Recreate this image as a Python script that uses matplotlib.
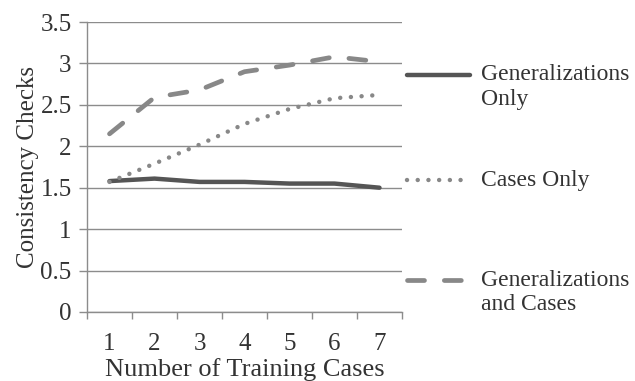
import matplotlib.pyplot as plt
from matplotlib.lines import Line2D

# Data
cases = [1, 2, 3, 4, 5, 6, 7]
gen_only = [1.58, 1.61, 1.57, 1.57, 1.55, 1.55, 1.50]
cases_only = [1.57, 1.79, 2.02, 2.27, 2.45, 2.58, 2.62]
gen_and_cases = [2.15, 2.59, 2.68, 2.90, 2.98, 3.08, 3.02]

plt.rcParams['font.family'] = ['Liberation Serif', 'DejaVu Serif']
text_col = '#333333'
axis_col = '#8c8c8c'

solid = dict(color='#555555', lw=3.2, solid_capstyle='round', solid_joinstyle='round')
dotted = dict(color='#888888', lw=3.2, linestyle=(0, (0.01, 2.4)), dash_capstyle='round')
dashed = dict(color='#888888', lw=3.4, linestyle=(0, (3.6, 4.2)), dash_capstyle='round')

fig = plt.figure(figsize=(6.35, 3.81), dpi=100)
ax = fig.add_axes([87 / 635, 1 - 312 / 381, 315 / 635, 290 / 381])

ax.plot(cases, gen_only, **solid)
ax.plot(cases, cases_only, **dotted)
ax.plot(cases, gen_and_cases, **dashed)

ax.set_xlim(0.5, 7.5)
ax.set_ylim(0, 3.5)
ax.set_yticks([0, 0.5, 1, 1.5, 2, 2.5, 3, 3.5])
ax.set_yticklabels(['0', '0.5', '1', '1.5', '2', '2.5', '3', '3.5'])
ax.set_xticks(cases)
ax.set_xticks([c - 0.5 for c in cases] + [7.5], minor=True)
ax.tick_params(axis='x', which='major', length=0, pad=15, labelsize=18,
               colors=text_col)
ax.tick_params(axis='x', which='minor', length=5, color=axis_col, width=1)
ax.tick_params(axis='y', length=6, color=axis_col, width=1, labelsize=18,
               colors=text_col, pad=5)
ax.grid(axis='y', color=axis_col, lw=1)
ax.set_axisbelow(True)
for s in ['top', 'right']:
    ax.spines[s].set_visible(False)
for s in ['left', 'bottom']:
    ax.spines[s].set_color(axis_col)
    ax.spines[s].set_linewidth(1)

ax.set_xlabel('Number of Training Cases', fontsize=19, color=text_col, labelpad=2)
ax.set_ylabel('Consistency Checks', fontsize=18, color=text_col, labelpad=1)

# Legend drawn at the right side: (text lines, style, y of each line in px)
legend_items = [
    (['Generalizations', 'Only'], solid, [75, 100]),
    (['Cases Only'], dotted, [180]),
    (['Generalizations', 'and Cases'], dashed, [280, 305]),
]
for lines, style, ys in legend_items:
    yf = 1 - ys[0] / 381
    fig.add_artist(Line2D([407 / 635, 470 / 635], [yf, yf], **style))
    for txt, ypix in zip(lines, ys):
        fig.text(481 / 635, 1 - ypix / 381, txt, fontsize=17, color=text_col,
                 va='center')

fig.savefig('out.png', dpi=100)
